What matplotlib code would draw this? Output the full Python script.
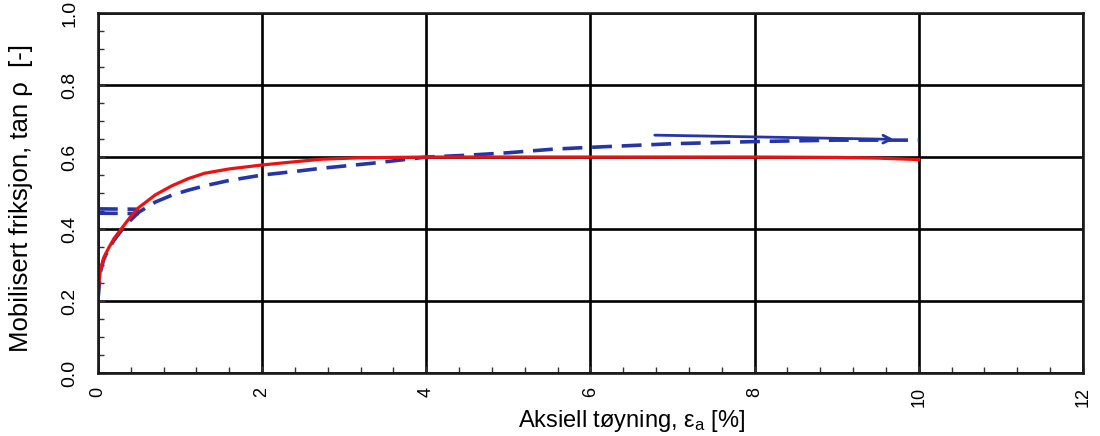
import matplotlib
matplotlib.use("Agg")
import matplotlib.pyplot as plt
from matplotlib.ticker import MultipleLocator

plt.rcParams['font.family'] = ['Liberation Sans', 'DejaVu Sans']
plt.rcParams['mathtext.fontset'] = 'custom'
plt.rcParams['mathtext.rm'] = 'Liberation Sans'
plt.rcParams['mathtext.it'] = 'Liberation Sans:italic'

# Red curve: mobilised friction vs axial strain
red_strain = [0.0, 0.01, 0.03, 0.07, 0.13, 0.2, 0.3, 0.4, 0.5, 0.7, 0.9, 1.1, 1.3, 1.6, 2.0,
              2.4, 2.73, 3.2, 4.0, 5.0, 6.0, 7.0, 8.0, 9.0, 9.5, 10.0]
red_tan = [0.20, 0.24, 0.286, 0.32, 0.347, 0.375, 0.405, 0.435, 0.46, 0.495, 0.52, 0.54, 0.555,
           0.567, 0.578, 0.587, 0.594, 0.598, 0.600, 0.600, 0.600, 0.600, 0.600, 0.599, 0.597, 0.593]

# Blue dashed curve
blue_strain = [0.0, 0.03, 0.07, 0.13, 0.2, 0.3, 0.4, 0.5, 0.7, 0.9, 1.1, 1.3, 1.6, 2.0, 2.4,
               2.73, 3.0, 3.35, 3.7, 4.0, 4.5, 5.0, 5.55, 6.0, 6.5, 7.0, 7.5, 8.0, 8.5, 9.0, 9.5, 10.0]
blue_tan = [0.20, 0.28, 0.315, 0.345, 0.37, 0.40, 0.425, 0.447, 0.475, 0.494, 0.508, 0.52, 0.535,
            0.55, 0.56, 0.569, 0.575, 0.583, 0.592, 0.60, 0.605, 0.612, 0.622, 0.627, 0.632, 0.637,
            0.640, 0.643, 0.645, 0.647, 0.647, 0.647]

# Short horizontal dashed marks near the start
mark_strain = [0.0, 0.5]
mark_tan_upper = [0.456, 0.455]
mark_tan_lower = [0.444, 0.443]

# Hand-drawn arrow line
arrow_strain = [6.75, 9.73]
arrow_tan = [0.661, 0.649]

x_ticks = [0, 2, 4, 6, 8, 10, 12]
y_ticks = [0.0, 0.2, 0.4, 0.6, 0.8, 1.0]

fig = plt.figure(figsize=(11, 4.36), dpi=100)
ax = fig.add_axes([0.089, 0.1445, 0.8955, 0.8255])

ax.set_xlim(0, 12)
ax.set_ylim(0, 1.0)
ax.set_xticks(x_ticks)
ax.set_yticks(y_ticks)
ax.set_xticklabels([str(t) for t in x_ticks], rotation=90, fontsize=13)
ax.set_yticklabels([f"{t:.1f}" for t in y_ticks], rotation=90, va='center', fontsize=14)
ax.xaxis.set_minor_locator(MultipleLocator(0.4))
ax.yaxis.set_minor_locator(MultipleLocator(0.05))
ax.tick_params(which='both', direction='in', top=False, right=False, width=1.0, color='#333333')
ax.tick_params(which='major', length=5)
ax.tick_params(which='minor', length=4)
ax.tick_params(axis='x', which='major', pad=10)
ax.tick_params(axis='y', which='major', pad=14)
ax.grid(True, which='major', color='black', linewidth=1.9)
for s in ax.spines.values():
    s.set_linewidth(1.9)
    s.set_color('#1a1a1a')

blue = '#2535a8'
ax.plot(mark_strain, mark_tan_upper, color=blue, lw=2.6, dashes=(5.5, 2.7))
ax.plot(mark_strain, mark_tan_lower, color=blue, lw=2.6, dashes=(5.5, 2.7))
ax.plot(blue_strain, blue_tan, color=blue, lw=2.6, dashes=(5.5, 2.7))
ax.plot(red_strain, red_tan, color='#ee1111', lw=2.3)
ax.annotate('', xy=(arrow_strain[1], arrow_tan[1]), xytext=(arrow_strain[0], arrow_tan[0]),
            arrowprops=dict(arrowstyle='->', color=blue, lw=2.0, mutation_scale=14))

ax.set_xlabel('Aksiell tøyning, ε$_\\mathrm{a}$ [%]', fontsize=17)
ax.xaxis.set_label_coords(0.542, -0.097)
ax.set_ylabel('Mobilisert friksjon, tan ρ  [-]', fontsize=18.5)
ax.yaxis.set_label_coords(-0.066, 0.486)

fig.savefig('out.png', dpi=100)
